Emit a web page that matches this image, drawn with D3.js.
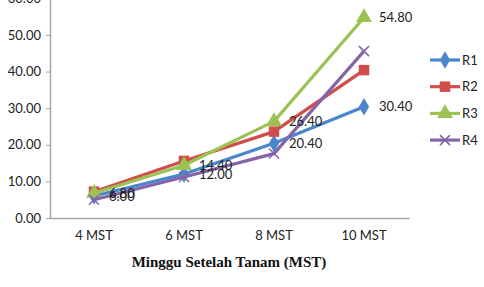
<!DOCTYPE html>
<html>
<head>
<meta charset="utf-8">
<script src="https://cdn.jsdelivr.net/npm/d3@7"></script>
<style>
  body { margin: 0; background: #fff; }
  svg { display: block; }
</style>
</head>
<body>
<script>
// data
var CATEGORIES = ["4 MST", "6 MST", "8 MST", "10 MST"];
var R1 = [6.00, 12.00, 20.40, 30.40];
var R2 = [7.20, 15.60, 23.60, 40.40];
var R3 = [6.80, 14.40, 26.40, 54.80];
var R4 = [5.00, 11.20, 17.60, 45.60];
var SERIES_NAMES = ["R1", "R2", "R3", "R4"];
var Y_TICKS = [0, 10, 20, 30, 40, 50, 60];
var LABELLED = ["R3", "R1"]; // series that carry data labels

var COLORS = { R1: "#4A86CC", R2: "#CF4E4B", R3: "#9BC252", R4: "#8466A8" };
var SYMBOLS = { R1: "diamond", R2: "square", R3: "triangle", R4: "x" };

var W = 484, H = 287;
var svg = d3.select("body").append("svg").attr("width", W).attr("height", H);

var x = d3.scaleBand().domain(CATEGORIES).range([49, 409]);
var y = d3.scaleLinear().domain([0, 60]).range([218, -1.6]);

var seriesData = SERIES_NAMES.map(function(name, i) {
    var vals = [R1, R2, R3, R4][i];
    return { name: name, values: vals.map(function(v, j) { return { cat: CATEGORIES[j], v: v }; }) };
});

// y axis
var yAxis = svg.append("g")
    .attr("transform", "translate(50,0)")
    .call(d3.axisLeft(y).tickValues(Y_TICKS).tickSize(4).tickSizeOuter(0)
        .tickFormat(function(d) { return d3.format(".2f")(d); }));
yAxis.select(".domain").attr("stroke", "#a6a6a6").attr("stroke-width", 1.5);
yAxis.selectAll(".tick line").attr("stroke", "#a6a6a6");
yAxis.selectAll("text").attr("font-family", "Lato, 'Open Sans', sans-serif")
    .attr("font-size", 13).attr("fill", "#222").attr("x", -9);

// x axis
var xAxis = svg.append("g")
    .attr("transform", "translate(0,218)")
    .call(d3.axisBottom(x).tickSize(0).tickSizeOuter(0));
xAxis.select(".domain").attr("stroke", "#a6a6a6").attr("stroke-width", 1.5);
xAxis.selectAll("text").attr("font-family", "Lato, 'Open Sans', sans-serif")
    .attr("font-size", 13).attr("fill", "#222").attr("dy", "1.45em");

svg.append("text")
    .attr("x", 229).attr("y", 267)
    .attr("text-anchor", "middle")
    .attr("font-family", "'Liberation Serif', 'Times New Roman', serif")
    .attr("font-weight", "bold").attr("font-size", 15).attr("fill", "#111")
    .text("Minggu Setelah Tanam (MST)");

function cx(d) { return x(d.cat) + x.bandwidth() / 2; }

function drawMarker(g, name, size) {
    var c = COLORS[name];
    if (SYMBOLS[name] === "x") {
        g.append("path").attr("d", "M-5,-5L5,5M-5,5L5,-5")
            .attr("stroke", c).attr("stroke-width", 1.5).attr("fill", "none");
    } else {
        var t = SYMBOLS[name] === "diamond" ? d3.symbolDiamond
              : SYMBOLS[name] === "square" ? d3.symbolSquare : d3.symbolTriangle;
        g.append("path").attr("d", d3.symbol().type(t).size(size)).attr("fill", c);
    }
}

var line = d3.line().x(cx).y(function(d) { return y(d.v); });

var seriesG = svg.selectAll(".series").data(seriesData).enter().append("g").attr("class", "series");
seriesG.append("path")
    .attr("d", function(d) { return line(d.values); })
    .attr("fill", "none")
    .attr("stroke", function(d) { return COLORS[d.name]; })
    .attr("stroke-width", 3.2)
    .attr("stroke-linejoin", "round");

seriesG.each(function(s) {
    var g = d3.select(this);
    s.values.forEach(function(d) {
        var m = g.append("g").attr("transform", "translate(" + cx(d) + "," + y(d.v) + ")");
        drawMarker(m, s.name, s.name === "R1" ? 90 : 110);
    });
});

// data labels
seriesData.filter(function(s) { return LABELLED.indexOf(s.name) >= 0; }).forEach(function(s) {
    svg.selectAll(".lbl-" + s.name).data(s.values).enter().append("text")
        .attr("x", function(d) { return cx(d) + 15; })
        .attr("y", function(d) { return y(d.v); })
        .attr("dy", "0.35em")
        .attr("font-family", "Lato, 'Open Sans', sans-serif")
        .attr("font-size", 13).attr("fill", "#222")
        .text(function(d) { return d3.format(".2f")(d.v); });
});

// legend
var legend = svg.selectAll(".legend").data(SERIES_NAMES).enter().append("g")
    .attr("transform", function(d, i) { return "translate(430," + (60 + i * 26.7) + ")"; });
legend.append("line").attr("x1", 0).attr("x2", 30)
    .attr("stroke", function(d) { return COLORS[d]; }).attr("stroke-width", 3.2);
legend.each(function(d) {
    var m = d3.select(this).append("g").attr("transform", "translate(15,0)");
    drawMarker(m, d, d === "R1" ? 90 : 110);
});
legend.append("text").attr("x", 32).attr("dy", "0.35em")
    .attr("font-family", "Lato, 'Open Sans', sans-serif")
    .attr("font-size", 13).attr("fill", "#222")
    .text(function(d) { return d; });
</script>
</body>
</html>
